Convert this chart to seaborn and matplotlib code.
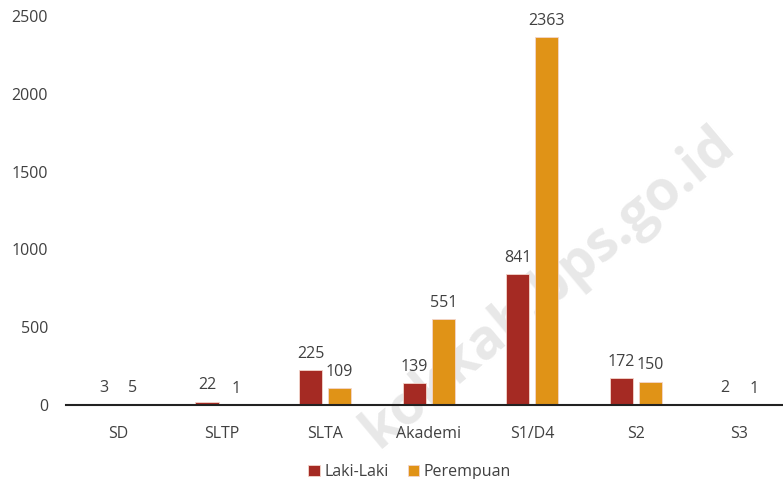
"""
Jumlah menurut pendidikan dan jenis kelamin.
"""

import matplotlib.pyplot as plt
import pandas as pd
import seaborn as sns

categories = ["SD", "SLTP", "SLTA", "Akademi", "S1/D4", "S2", "S3"]
laki = [3, 22, 225, 139, 841, 172, 2]
perempuan = [5, 1, 109, 551, 2363, 150, 1]
series_names = ["Laki-Laki", "Perempuan"]
colors = ["#A52A23", "#E09317"]

df = pd.DataFrame({
    "Pendidikan": categories * 2,
    "Jenis": [series_names[0]] * len(categories) + [series_names[1]] * len(categories),
    "Jumlah": laki + perempuan,
})

sns.set_theme(style="white")
plt.rcParams["font.family"] = ["Open Sans", "DejaVu Sans"]

fig = plt.figure(figsize=(7.83, 4.79), dpi=100)
ax = fig.add_axes([0.0845, 0.1545, 0.926, 0.812])

# watermark behind the bars
fig.text(0.70, 0.40, "kokkab.bps.go.id", rotation=40, fontsize=40, fontweight="bold",
         color="#e8e8e8", ha="center", va="center", zorder=0)
ax.set_zorder(1)
ax.patch.set_alpha(0)

sns.barplot(data=df, x="Pendidikan", y="Jumlah", hue="Jenis", palette=colors,
            saturation=1, width=0.56, gap=0.2, ax=ax, edgecolor="#f3d6cc", linewidth=0.6)

for cont in ax.containers:
    ax.bar_label(cont, padding=6, fontsize=11.5, color="#404040")

ax.set_ylim(0, 2500)
ax.set_yticks(range(0, 2501, 500))
ax.set_xlabel("")
ax.set_ylabel("")
ax.tick_params(axis="both", length=0, labelsize=11.5, colors="#404040")
ax.tick_params(axis="x", pad=15)
ax.tick_params(axis="y", pad=13)
for side in ["top", "right", "left"]:
    ax.spines[side].set_visible(False)
ax.spines["bottom"].set_color("#222222")
ax.spines["bottom"].set_linewidth(1.5)

ax.legend(loc="upper center", bbox_to_anchor=(0.474, -0.115), ncol=2, frameon=False,
          fontsize=11.5, handlelength=0.7, handleheight=0.7, handletextpad=0.3,
          columnspacing=1.2, labelcolor="#404040")

fig.savefig("out.png", dpi=100)
